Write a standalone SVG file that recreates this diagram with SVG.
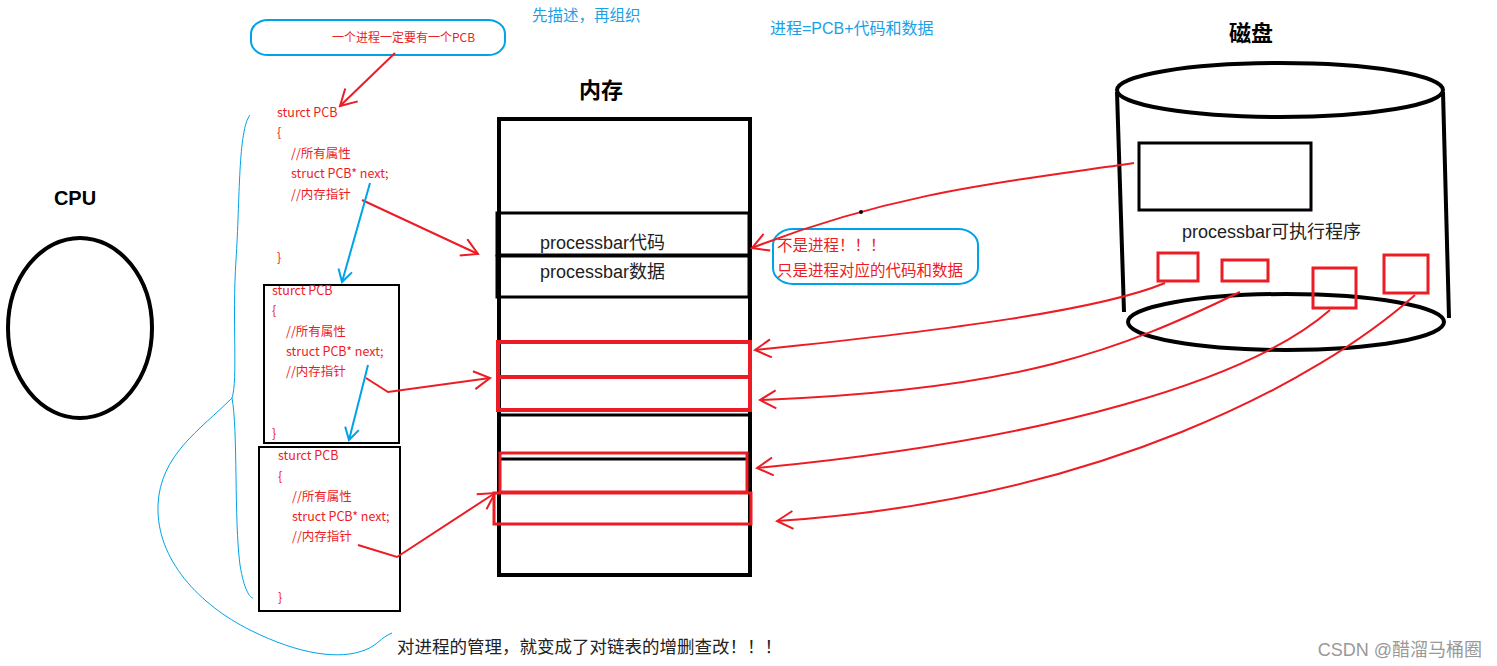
<svg xmlns="http://www.w3.org/2000/svg" width="1497" height="666" viewBox="0 0 1497 666">
<style>
.cn{font-family:"Liberation Sans","Noto Sans CJK SC",sans-serif}
.code{font-family:"Noto Sans CJK SC","Liberation Sans",sans-serif;font-size:12.5px;fill:#ed1c24}
.note{font-family:"Noto Sans CJK SC","Liberation Sans",sans-serif;font-size:15.5px;fill:#ed1c24}
.blk{fill:none;stroke:#000;stroke-width:4}
.red{fill:none;stroke:#ed1c24;stroke-width:2}
.redbox{fill:none;stroke:#ed1c24;stroke-width:3}
.blue{fill:none;stroke:#00a2e8;stroke-width:2}
.thinblue{fill:none;stroke:#00a2e8;stroke-width:1}
</style>
<defs>
<marker id="ar" viewBox="0 0 20 20" refX="18" refY="10" markerWidth="20" markerHeight="20" markerUnits="userSpaceOnUse" orient="auto">
<polyline points="2,1 18,10 2,19" fill="none" stroke="#ed1c24" stroke-width="2"/>
</marker>
<marker id="ab" viewBox="0 0 16 16" refX="14" refY="8" markerWidth="16" markerHeight="16" markerUnits="userSpaceOnUse" orient="auto">
<polyline points="2,1 14,8 2,15" fill="none" stroke="#00a2e8" stroke-width="2"/>
</marker>
</defs>
<rect width="1497" height="666" fill="#fff"/>

<g id="titles">
<text x="75" y="205" class="cn" font-size="20" font-weight="bold" text-anchor="middle">CPU</text>
<text x="601" y="98" class="cn" font-size="22" font-weight="bold" text-anchor="middle">内存</text>
<text x="1251" y="41" class="cn" font-size="22" font-weight="bold" text-anchor="middle">磁盘</text>
<text x="532" y="21" class="cn" font-size="15.5" fill="#1aa0e6">先描述，再组织</text>
<text x="770" y="34" class="cn" font-size="16" fill="#1aa0e6">进程=PCB+代码和数据</text>
<text x="397" y="653" class="cn" font-size="17.5" fill="#222">对进程的管理，就变成了对链表的增删查改！！！</text>
<text x="1482" y="656" class="cn" font-size="18" fill="#999" text-anchor="end">CSDN @醋溜马桶圈</text>
</g>

<g id="cpu">
<ellipse cx="80" cy="328" rx="72" ry="90" class="blk"/>
</g>

<g id="note-pcb">
<rect x="251" y="20" width="254" height="35" rx="17" ry="14" class="blue"/>
<text x="332" y="42" class="code" style="font-size:12px">一个进程一定要有一个PCB</text>
</g>

<g id="pcb1">
<text x="277" y="117" class="code">sturct PCB</text>
<text x="277" y="137" class="code">{</text>
<text x="291" y="158" class="code">//所有属性</text>
<text x="291" y="178" class="code">struct PCB* next;</text>
<text x="291" y="199" class="code">//内存指针</text>
<text x="277" y="262" class="code">}</text>
</g>

<g id="pcb2">
<rect x="264" y="285" width="135" height="158" fill="none" stroke="#000" stroke-width="2"/>
<text x="272" y="295" class="code">sturct PCB</text>
<text x="272" y="315" class="code">{</text>
<text x="286" y="336" class="code">//所有属性</text>
<text x="286" y="356" class="code">struct PCB* next;</text>
<text x="286" y="376" class="code">//内存指针</text>
<text x="272" y="438" class="code">}</text>
</g>

<g id="pcb3">
<rect x="259" y="447" width="141" height="164" fill="none" stroke="#000" stroke-width="2"/>
<text x="278" y="460" class="code">sturct PCB</text>
<text x="278" y="481" class="code">{</text>
<text x="292" y="501" class="code">//所有属性</text>
<text x="292" y="521" class="code">struct PCB* next;</text>
<text x="292" y="541" class="code">//内存指针</text>
<text x="278" y="602" class="code">}</text>
</g>

<g id="memory">
<rect x="499" y="119" width="251" height="456" class="blk"/>
<rect x="497" y="213" width="252" height="42" fill="none" stroke="#000" stroke-width="3"/>
<rect x="497" y="256" width="252" height="41" fill="none" stroke="#000" stroke-width="3"/>
<text x="540" y="249" class="cn" font-size="18" fill="#222">processbar代码</text>
<text x="540" y="278" class="cn" font-size="18" fill="#222">processbar数据</text>
<line x1="497" y1="415" x2="750" y2="415" stroke="#000" stroke-width="3"/>
<line x1="499" y1="459" x2="748" y2="459" stroke="#000" stroke-width="3"/>
<rect x="498" y="342" width="252" height="35" fill="none" stroke="#ed1c24" stroke-width="4"/>
<rect x="498" y="377" width="252" height="33" fill="none" stroke="#ed1c24" stroke-width="4"/>
<rect x="500" y="453" width="247" height="39" class="redbox"/>
<rect x="494" y="493" width="257" height="31" class="redbox"/>
</g>

<g id="note-code">
<rect x="773" y="229" width="205" height="55" rx="20" ry="16" class="blue"/>
<text x="777" y="251" class="note">不是进程！！！</text>
<text x="777" y="276" class="note">只是进程对应的代码和数据</text>
</g>

<g id="disk">
<ellipse cx="1280" cy="90" rx="163" ry="27" class="blk" fill="#fff"/>
<path d="M1117,92 L1124,312 M1443,92 L1449,318" class="blk"/>
<ellipse cx="1286" cy="322" rx="158" ry="28" class="blk"/>
<rect x="1139" y="143" width="172" height="67" fill="none" stroke="#000" stroke-width="3"/>
<text x="1182" y="238" class="cn" font-size="18" fill="#222">processbar可执行程序</text>
<rect x="1158" y="253" width="40" height="28" class="redbox"/>
<rect x="1222" y="260" width="46" height="21" class="redbox"/>
<rect x="1313" y="268" width="43" height="40" class="redbox"/>
<rect x="1384" y="255" width="44" height="38" class="redbox"/>
</g>

<g id="connectors">
<line x1="395" y1="53" x2="340" y2="106" class="red" marker-end="url(#ar)"/>
<path d="M362,200 L478,254" class="red" marker-end="url(#ar)"/>
<path d="M366,378 L388,392 L490,378" class="red" marker-end="url(#ar)"/>
<path d="M358,545 L397,557 L495,493" class="red" marker-end="url(#ar)"/>
<line x1="370" y1="183" x2="342" y2="282" class="blue" marker-end="url(#ab)"/>
<line x1="368" y1="365" x2="349" y2="440" class="blue" marker-end="url(#ab)"/>
<path d="M1134,163 C1020,180 900,190 752,248" class="red" marker-end="url(#ar)"/>
<path d="M1165,283 C1100,310 950,330 755,350" class="red" marker-end="url(#ar)"/>
<path d="M1240,292 C1120,350 1020,390 760,400" class="red" marker-end="url(#ar)"/>
<path d="M1330,310 C1250,380 1050,440 757,468" class="red" marker-end="url(#ar)"/>
<path d="M1415,295 C1320,380 1100,500 777,521" class="red" marker-end="url(#ar)"/>
<path d="M250,115 C238,130 240,200 236,260 C232,320 238,380 232,398 C200,430 160,455 158,505 C156,560 200,605 250,630 C300,655 340,660 365,650 C378,645 380,638 392,633" class="thinblue"/>
<path d="M232,398 C238,430 234,520 240,565 C244,590 250,598 253,598" class="thinblue"/>
<circle cx="861" cy="212" r="2" fill="#000"/>
</g>
</svg>
